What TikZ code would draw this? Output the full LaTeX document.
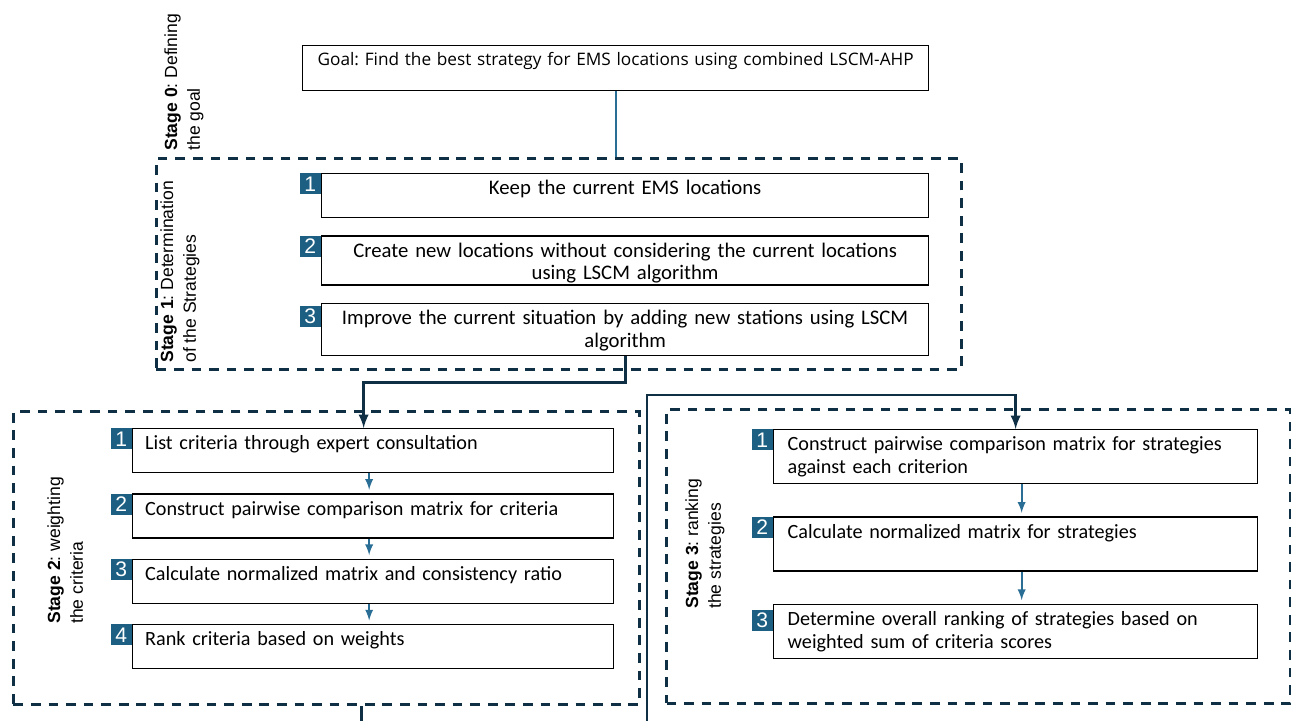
\documentclass[tikz,border=0pt]{standalone}
\usepackage{fontspec}
\setmainfont{Carlito}
\newfontfamily\lblfont{Liberation Sans}
\newfontfamily\goalfont{Open Sans}
\usepackage{tikz}
\usetikzlibrary{arrows, positioning, calc}
\definecolor{navy}{HTML}{0E2F44}
\definecolor{tealbox}{HTML}{1C5F82}
\definecolor{tealline}{HTML}{2A6E96}
\frenchspacing
\tikzset{
	frame/.style={draw=navy, line width=1.7pt, dash pattern=on 5.5pt off 4.5pt, anchor=north west, inner sep=0pt},
	num/.style={fill=tealbox, text=white, font=\lblfont\fontsize{12}{12}\selectfont, minimum width=0.42cm, minimum height=0.42cm, inner sep=0pt, anchor=north east},
	stepbox/.style={draw, line width=0.8pt, inner ysep=3pt, text height=9pt, font=\fontsize{11.5}{13}\selectfont},
	stagelbl/.style={rotate=90, anchor=north west, align=left, inner sep=0pt, font=\lblfont\fontsize{10}{13}\selectfont},
	link/.style={draw=navy, line width=1.6pt},
	stepline/.style={-latex, draw=tealline, line width=1.1pt, shorten >=2pt}
}
\begin{document}
\begin{tikzpicture}[x=0.02cm, y=-0.02cm]
	\useasboundingbox (0,0) rectangle (1291,720);
	\clip (0,0) rectangle (1291,720);
	\node[stepbox, anchor=north west, text width=12.32cm, inner xsep=0.1cm, align=center, text height=8pt, text depth=11.6pt, font=\goalfont\fontsize{9.8}{11}\selectfont] (goal) at (302,45) {Goal: Find the best strategy for EMS locations using combined LSCM-AHP};
	\node[stagelbl] (l0) at (164,151) {\textbf{Stage 0}: Defining\\the goal};
	\node[frame, minimum width=16.1cm, minimum height=4.22cm] (s1) at (155,157) {};
	\node[stagelbl] (l1) at (160,363) {\textbf{Stage 1}: Determination\\of the Strategies};
	\node[stepbox, anchor=north west, text width=11.94cm, inner xsep=0.1cm, align=center, text depth=10pt, font=\fontsize{11.8}{13}\selectfont] (s1a) at (321,173) {Keep the current EMS locations};
	\node[stepbox, below=0.34cm of s1a, text width=11.94cm, inner xsep=0.1cm, align=center, text depth=12.9pt, font=\fontsize{11.8}{13}\selectfont] (s1b) {Create new locations without considering the current locations\\using LSCM algorithm};
	\node[stepbox, below=0.34cm of s1b, text width=11.94cm, inner xsep=0.1cm, align=center, text depth=14.6pt, font=\fontsize{11.8}{13}\selectfont] (s1c) {Improve the current situation by adding new stations using LSCM\\algorithm};
	\node[num] (n1a) at (s1a.north west) {1};
	\node[num] (n1b) at (s1b.north west) {2};
	\node[num, yshift=-0.06cm] (n1c) at (s1c.north west) {3};
	\node[frame, minimum width=12.52cm, minimum height=5.86cm] (s2) at (12,410) {};
	\node[stagelbl] (l2) at (47,624) {\textbf{Stage 2}: weighting\\the criteria};
	\node[stepbox, anchor=north west, text width=9.12cm, inner xsep=0.25cm, align=left, text depth=10pt] (s2a) at (132,428) {List criteria through expert consultation};
	\node[stepbox, below=0.4cm of s2a, text width=9.12cm, inner xsep=0.25cm, align=left, text depth=10pt] (s2b) {Construct pairwise comparison matrix for criteria};
	\node[stepbox, below=0.4cm of s2b, text width=9.12cm, inner xsep=0.25cm, align=left, text depth=10pt] (s2c) {Calculate normalized matrix and consistency ratio};
	\node[stepbox, below=0.4cm of s2c, text width=9.12cm, inner xsep=0.25cm, align=left, text depth=10pt] (s2d) {Rank criteria based on weights};
	\node[num] (n2a) at (s2a.north west) {1};
	\node[num] (n2b) at (s2b.north west) {2};
	\node[num] (n2c) at (s2c.north west) {3};
	\node[num] (n2d) at (s2d.north west) {4};
	\node[frame, minimum width=12.48cm, minimum height=5.88cm] (s3) at (665,408) {};
	\node[stagelbl] (l3) at (685,609) {\textbf{Stage 3}: ranking\\the strategies};
	\node[stepbox, anchor=north west, text width=9.12cm, inner xsep=0.28cm, align=left, text depth=15.7pt] (s3a) at (773,429) {Construct pairwise comparison matrix for strategies\\against each criterion};
	\node[stepbox, below=0.64cm of s3a, text width=9.12cm, inner xsep=0.28cm, align=left, text depth=15.7pt] (s3b) {Calculate normalized matrix for strategies};
	\node[stepbox, below=0.64cm of s3b, text width=9.12cm, inner xsep=0.28cm, align=left, text depth=15.7pt] (s3c) {Determine overall ranking of strategies based on\\weighted sum of criteria scores};
	\node[num] (n3a) at (s3a.north west) {1};
	\node[num] (n3b) at (s3b.north west) {2};
	\node[num, yshift=-0.12cm] (n3c) at (s3c.north west) {3};
	\draw[draw=tealline, line width=1.1pt] (goal.south) -- (goal.south |- s1.north);
	\draw[link, -latex] (s1c.south) -- ++(0,26) -| ([xshift=-0.19cm]s2a.north);
	\coordinate (bend) at (647,395);
	\draw[link, -latex] ([xshift=0.7cm]s2.south) -- ++(0,40) -| (bend) -| (s3a.north);
	\draw[stepline] ([xshift=-0.08cm]s2a.south) -- ([xshift=-0.08cm]s2b.north);
	\draw[stepline] ([xshift=-0.08cm]s2b.south) -- ([xshift=-0.08cm]s2c.north);
	\draw[stepline] ([xshift=-0.08cm]s2c.south) -- ([xshift=-0.08cm]s2d.north);
	\draw[stepline] ([xshift=0.12cm]s3a.south) -- ([xshift=0.12cm]s3b.north);
	\draw[stepline] ([xshift=0.12cm]s3b.south) -- ([xshift=0.12cm]s3c.north);
\end{tikzpicture}
\end{document}
